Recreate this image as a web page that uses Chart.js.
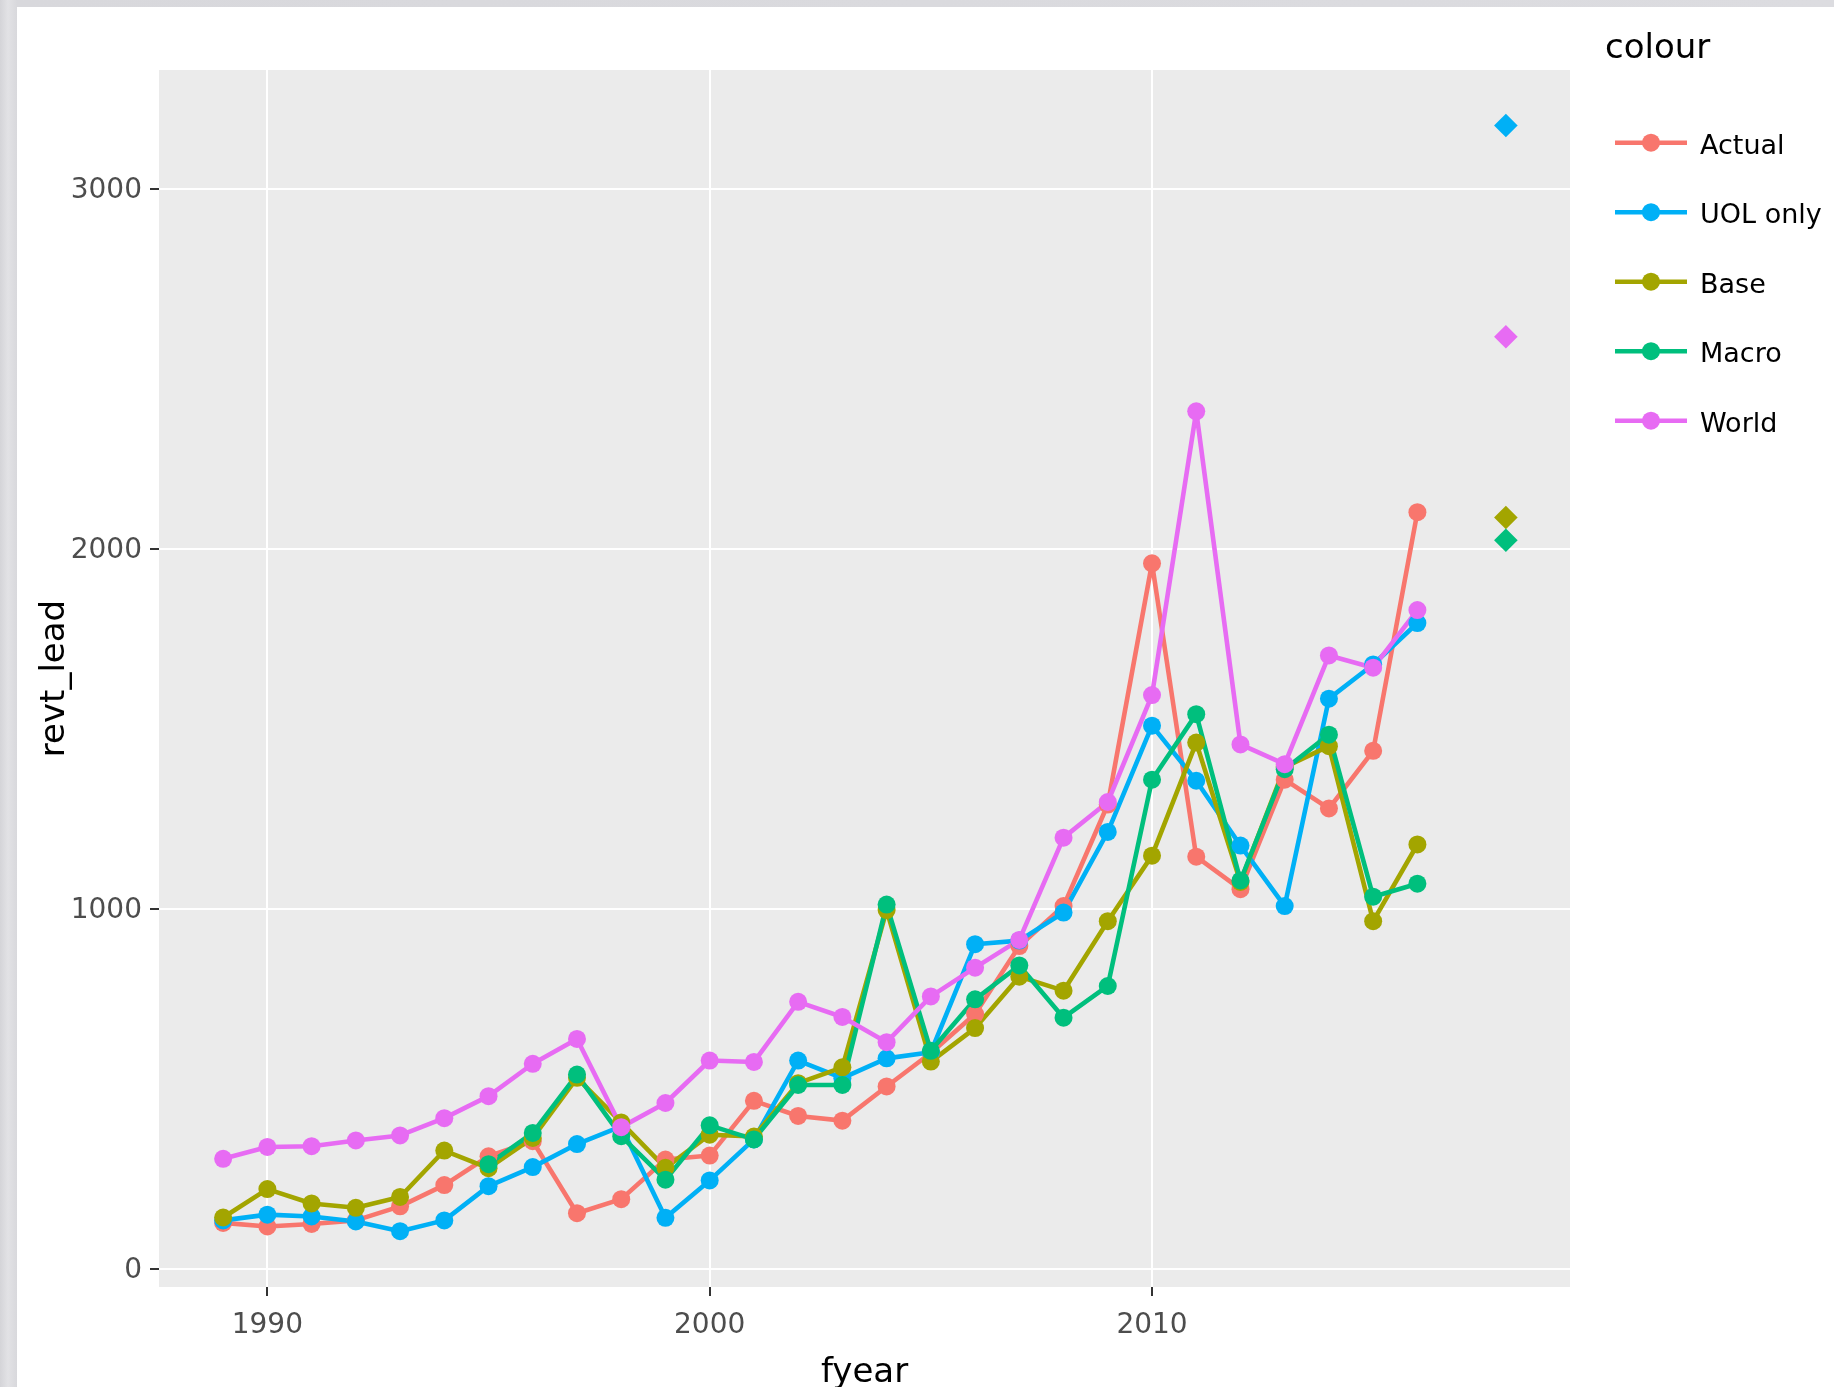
<!DOCTYPE html>
<html>
<head>
<meta charset="utf-8">
<title>revt_lead by fyear</title>
<script src="https://cdn.jsdelivr.net/npm/chart.js@4/dist/chart.umd.min.js"></script>
<style>
  html, body { margin: 0; padding: 0; }
  body {
    width: 1834px; height: 1387px; overflow: hidden; position: relative;
    background: linear-gradient(90deg, #d4d4d8 0px, #e2e2e5 8px, #d8d8dc 17px, #dcdce0 100%);
  }
  #sheet { position: absolute; left: 17px; top: 7px; width: 1817px; height: 1380px; background: #ffffff; }
  canvas { display: block; }
</style>
</head>
<body>
<div id="sheet"><canvas id="chart" width="1817" height="1380"></canvas></div>
<script>
// Fiscal years on the x axis
const years = [1989, 1990, 1991, 1992, 1993, 1994, 1995, 1996, 1997, 1998, 1999, 2000, 2001, 2002,
               2003, 2004, 2005, 2006, 2007, 2008, 2009, 2010, 2011, 2012, 2013, 2014, 2015, 2016];

// revt_lead per series (null = no value that year)
const actual = [128, 118, 125, 135, 174, 233, 313, 355, 155, 194, 304, 315, 467, 425,
                412, 507, 600, 708, 897, 1008, 1290, 1960, 1145, 1055, 1359, 1279, 1439, 2102];
const uolOnly = [135, 151, 146, 132, 105, 135, 230, 283, 347, 396, 142, 246, 360, 579,
                 530, 585, 602, 902, 912, 990, 1214, 1509, 1356, 1176, 1008, 1584, 1679, 1794];
const base = [143, 222, 182, 170, 200, 329, 280, 364, 531, 407, 281, 373, 368, 516,
              560, 997, 576, 669, 812, 773, 966, 1148, 1462, 1075, 1394, 1452, 966, 1179];
const macro = [null, null, null, null, null, null, 291, 378, 540, 369, 248, 399, 360, 511,
               511, 1012, 606, 749, 843, 698, 786, 1359, 1541, 1079, 1388, 1484, 1034, 1070];
const world = [306, 339, 341, 357, 371, 419, 480, 570, 639, 394, 461, 579, 575, 742,
               700, 630, 757, 837, 914, 1198, 1297, 1594, 2382, 1457, 1402, 1704, 1670, 1830];

// Single forecast year shown as diamonds
const forecastYear = 2018;
const forecast = { "UOL only": 3176, "Base": 2087, "Macro": 2024, "World": 2589 };

// Series names and colours (legend order)
const seriesNames = ["Actual", "UOL only", "Base", "Macro", "World"];
const seriesColors = ["#F8766D", "#00B0F6", "#A3A500", "#00BF7D", "#E76BF3"];
const seriesValues = [actual, uolOnly, base, macro, world];

// Axis ticks
const xTicks = [1990, 2000, 2010];
const yTicks = [0, 1000, 2000, 3000];

const FONT = "'DejaVu Sans', Verdana, sans-serif";

function toPoints(values) {
  const pts = [];
  values.forEach((v, i) => { if (v !== null) pts.push({ x: years[i], y: v }); });
  return pts;
}

const datasets = [];
// connecting lines first (drawn underneath every point)
seriesNames.forEach((name, i) => {
  datasets.push({
    label: name + " line",
    data: toPoints(seriesValues[i]),
    showLine: true,
    borderColor: seriesColors[i],
    borderWidth: 4.6,
    borderJoinStyle: "round",
    borderCapStyle: "butt",
    pointRadius: 0,
    pointHoverRadius: 0,
    tension: 0,
    order: 20 - i
  });
});
// points on top of the lines
seriesNames.forEach((name, i) => {
  datasets.push({
    label: name,
    data: toPoints(seriesValues[i]),
    showLine: false,
    pointRadius: 9,
    pointHoverRadius: 9,
    pointBorderWidth: 0,
    pointBackgroundColor: seriesColors[i],
    backgroundColor: seriesColors[i],
    order: 10 - i
  });
});
// forecast diamonds
seriesNames.forEach((name, i) => {
  if (forecast[name] === undefined) return;
  datasets.push({
    label: name + " " + forecastYear,
    data: [{ x: forecastYear, y: forecast[name] }],
    showLine: false,
    pointStyle: "rectRot",
    pointRadius: 11.8,
    pointHoverRadius: 11.8,
    pointBorderWidth: 0,
    pointBackgroundColor: seriesColors[i],
    backgroundColor: seriesColors[i],
    order: 5 - i
  });
});

// grey panel behind the plotting area
const panelBackground = {
  id: "panelBackground",
  beforeDraw(chart) {
    const { ctx, chartArea: a } = chart;
    ctx.save();
    ctx.fillStyle = "#EBEBEB";
    ctx.fillRect(a.left, a.top, a.right - a.left, a.bottom - a.top);
    ctx.restore();
  }
};

// legend: title plus line-through-dot keys
const keyLegend = {
  id: "keyLegend",
  afterDraw(chart) {
    const ctx = chart.ctx;
    ctx.save();
    ctx.fillStyle = "#000000";
    ctx.textAlign = "left";
    ctx.textBaseline = "alphabetic";
    ctx.font = "34px " + FONT;
    ctx.fillText("colour", 1588, 51);
    ctx.font = "27px " + FONT;
    seriesNames.forEach((name, i) => {
      const cy = 135.7 + i * 69.5;
      ctx.strokeStyle = seriesColors[i];
      ctx.lineWidth = 4.6;
      ctx.lineCap = "butt";
      ctx.beginPath();
      ctx.moveTo(1598, cy);
      ctx.lineTo(1670, cy);
      ctx.stroke();
      ctx.fillStyle = seriesColors[i];
      ctx.beginPath();
      ctx.arc(1634, cy, 9, 0, Math.PI * 2);
      ctx.fill();
      ctx.fillStyle = "#000000";
      ctx.fillText(name, 1683, cy + 11);
    });
    ctx.restore();
  }
};

const tickFont = { family: FONT, size: 28 };
const titleFont = { family: FONT, size: 34 };

new Chart(document.getElementById("chart"), {
  type: "scatter",
  data: { datasets },
  options: {
    responsive: false,
    animation: false,
    devicePixelRatio: 1,
    events: [],
    layout: { padding: { top: 63, right: 264, bottom: 0, left: 0 } },
    plugins: { legend: { display: false }, tooltip: { enabled: false } },
    scales: {
      x: {
        type: "linear",
        min: 1987.55,
        max: 2019.45,
        afterBuildTicks: s => { s.ticks = xTicks.map(v => ({ value: v })); },
        afterFit: s => { s.height = 100; },
        ticks: {
          callback: v => String(v),
          color: "#4D4D4D",
          font: tickFont,
          padding: 13,
          maxRotation: 0,
          autoSkip: false
        },
        grid: { color: "#FFFFFF", lineWidth: 2, tickColor: "#333333", tickLength: 9, tickWidth: 2 },
        border: { display: false },
        title: { display: true, text: "fyear", color: "#000000",
                 font: { family: FONT, size: 34, lineHeight: 0.8 }, padding: { top: 0, bottom: 0 } }
      },
      y: {
        type: "linear",
        min: -50,
        max: 3330,
        afterBuildTicks: s => { s.ticks = yTicks.map(v => ({ value: v })); },
        afterFit: s => { s.width = 142; },
        ticks: {
          callback: v => String(v),
          color: "#4D4D4D",
          font: tickFont,
          padding: 8,
          labelOffset: 2
        },
        grid: { color: "#FFFFFF", lineWidth: 2, tickColor: "#333333", tickLength: 9, tickWidth: 2 },
        border: { display: false },
        title: { display: true, text: "revt_lead", color: "#000000", font: titleFont, padding: { top: 18, bottom: 0 } }
      }
    }
  },
  plugins: [panelBackground, keyLegend]
});
</script>
</body>
</html>
